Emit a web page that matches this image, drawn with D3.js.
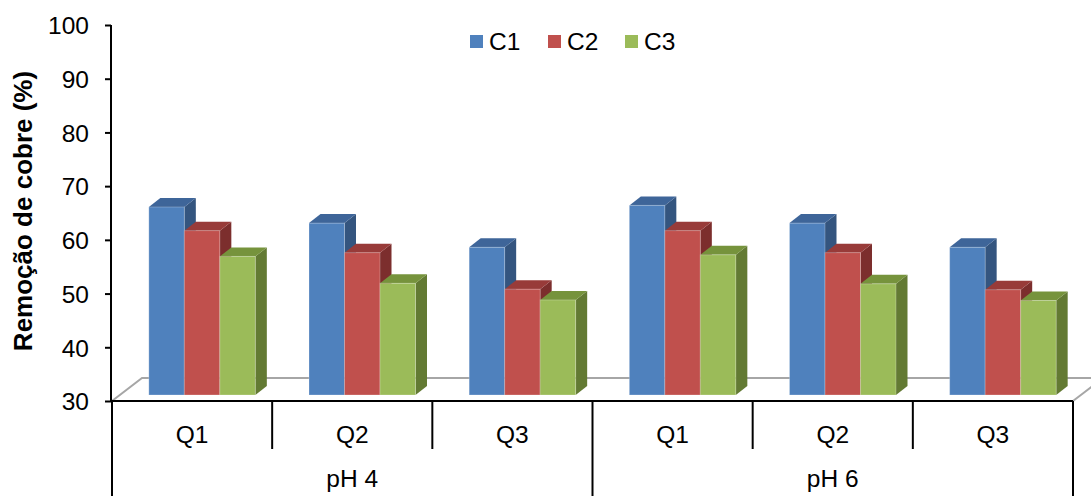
<!DOCTYPE html>
<html>
<head>
<meta charset="utf-8">
<script src="https://cdn.jsdelivr.net/npm/d3@7"></script>
<style>
  html, body { margin: 0; padding: 0; background: #fff; }
  svg { display: block; font-family: "Liberation Sans", Arial, sans-serif; }
</style>
</head>
<body>
<svg id="chart" width="1091" height="496"></svg>
<script>
const groups = ["pH 4", "pH 6"];
const quarters = ["Q1", "Q2", "Q3"];
const seriesNames = ["C1", "C2", "C3"];
const C1 = [65.0, 62.0, 57.5, 65.3, 62.0, 57.5];
const C2 = [60.6, 56.5, 49.7, 60.6, 56.5, 49.6];
const C3 = [55.8, 50.8, 47.7, 56.1, 50.7, 47.6];
const yTicks = [30, 40, 50, 60, 70, 80, 90, 100];
const yTitle = "Remoção de cobre (%)";

const seriesValues = [C1, C2, C3];
const frontColors = ["#4F81BD", "#C0504D", "#9BBB59"];
const topColors = ["#3E6599", "#983B39", "#76933C"];
const sideColors = ["#34557F", "#7C2E2D", "#637A33"];

const categories = [];
groups.forEach(g => quarters.forEach(q => categories.push(g + "|" + q)));

const svg = d3.select("#chart");
const left = 112, right = 1073, baseY = 401, topY = 25;
const fontSize = 24.5;

const x0 = d3.scaleBand().domain(categories).range([left, right]).padding(0);
const y = d3.scaleLinear().domain([30, 100]).range([baseY, topY]);

const floorDx = 30, floorDy = -23;
const barOx = 10, barOy = -6;
const depthDx = 11.5, depthDy = -9;
const groupW = 106.5;
const x1 = d3.scaleBand().domain(seriesNames).range([-groupW / 2, groupW / 2]).padding(0);

const floorColor = "#A6A6A6";
svg.append("path")
  .attr("d", `M${left},${baseY} L${left + floorDx},${baseY + floorDy} L${1091 + 20},${baseY + floorDy}`)
  .attr("fill", "none").attr("stroke", floorColor).attr("stroke-width", 2);
svg.append("path")
  .attr("d", `M${right},${baseY} L${right + floorDx},${baseY + floorDy}`)
  .attr("fill", "none").attr("stroke", floorColor).attr("stroke-width", 2);

const barsG = svg.append("g");
categories.forEach((cat, ci) => {
  const cx = x0(cat) + x0.bandwidth() / 2 + barOx;
  seriesNames.forEach((s, si) => {
    const v = seriesValues[si][ci];
    const xa = cx + x1(s);
    const xb = xa + x1.bandwidth();
    const yt = y(v) + barOy;
    const yb = y(30) + barOy;
    const g = barsG.append("g");
    g.append("path")
      .attr("d", `M${xb},${yt} L${xb + depthDx},${yt + depthDy} L${xb + depthDx},${yb + depthDy} L${xb},${yb} Z`)
      .attr("fill", sideColors[si]);
    g.append("path")
      .attr("d", `M${xa},${yt} L${xa + depthDx},${yt + depthDy} L${xb + depthDx},${yt + depthDy} L${xb},${yt} Z`)
      .attr("fill", topColors[si]);
    g.append("rect")
      .attr("x", xa).attr("y", yt)
      .attr("width", xb - xa).attr("height", yb - yt)
      .attr("fill", frontColors[si])
      .attr("stroke", "rgba(255,255,255,0.25)").attr("stroke-width", 1);
  });
});

const yAxis = d3.axisLeft(y).tickValues(yTicks).tickSize(6).tickPadding(16);
const yG = svg.append("g").attr("transform", `translate(${left - 1},0)`).call(yAxis);
yG.select(".domain").attr("stroke", "#000").attr("stroke-width", 2).attr("d", `M0,${topY}V${baseY}`);
yG.selectAll(".tick line").attr("stroke", "#000").attr("stroke-width", 2);
yG.selectAll(".tick text").attr("font-size", fontSize).attr("fill", "#000")
  .attr("font-family", "'Liberation Sans', Arial, sans-serif").attr("dy", "0.36em");

svg.append("line").attr("x1", left - 1).attr("x2", right).attr("y1", baseY).attr("y2", baseY)
  .attr("stroke", "#000").attr("stroke-width", 2);

const boundaries = d3.range(categories.length + 1).map(i => left + i * x0.bandwidth());
boundaries.forEach((bx, i) => {
  const outer = (i % quarters.length === 0);
  svg.append("line").attr("x1", bx).attr("x2", bx)
    .attr("y1", baseY).attr("y2", outer ? 496 : 449)
    .attr("stroke", "#000").attr("stroke-width", 2);
});

categories.forEach(cat => {
  svg.append("text")
    .attr("x", x0(cat) + x0.bandwidth() / 2)
    .attr("y", 443)
    .attr("text-anchor", "middle").attr("font-size", fontSize).attr("fill", "#000")
    .text(cat.split("|")[1]);
});
groups.forEach((g, gi) => {
  const a = x0(g + "|" + quarters[0]);
  const b = x0(g + "|" + quarters[quarters.length - 1]) + x0.bandwidth();
  svg.append("text")
    .attr("x", (a + b) / 2).attr("y", 487)
    .attr("text-anchor", "middle").attr("font-size", fontSize).attr("fill", "#000")
    .text(g);
});

svg.append("text")
  .attr("transform", "translate(32,211) rotate(-90)")
  .attr("text-anchor", "middle").attr("font-size", 26).attr("font-weight", "bold").attr("fill", "#000")
  .text(yTitle);

const legendX = [470, 548, 625];
seriesNames.forEach((s, i) => {
  svg.append("rect").attr("x", legendX[i]).attr("y", 35).attr("width", 13).attr("height", 13)
    .attr("fill", frontColors[i]);
  svg.append("text").attr("x", legendX[i] + 19).attr("y", 50)
    .attr("font-size", fontSize).attr("fill", "#000").text(s);
});
</script>
</body>
</html>
